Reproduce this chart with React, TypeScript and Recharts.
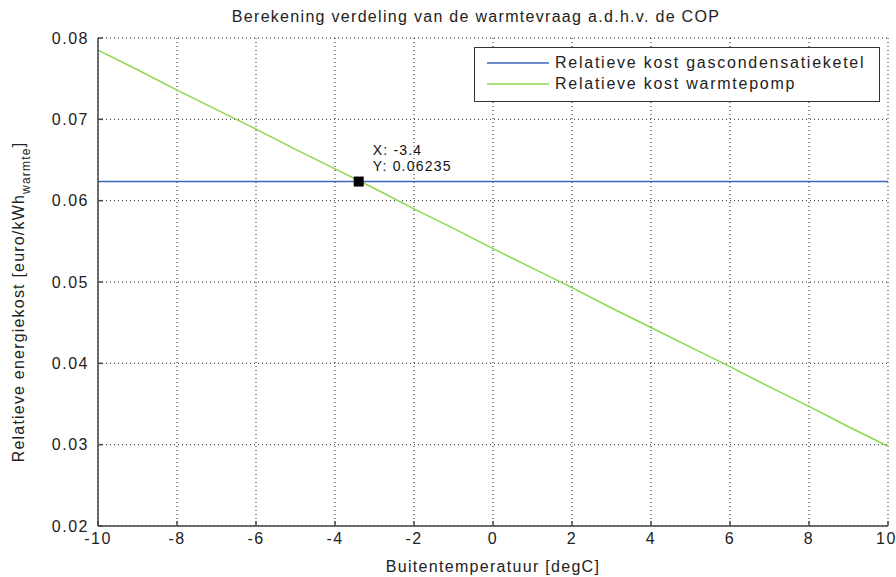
// App.tsx
// Relative cost of heating: condensing gas boiler vs heat pump, by outdoor temperature.
import { LineChart, Line, XAxis, YAxis, CartesianGrid, ReferenceDot } from "recharts";

const temps = [-10, -9, -8, -7, -6, -5, -4, -3, -2, -1, 0, 1, 2, 3, 4, 5, 6, 7, 8, 9, 10];
const gasCost = [
  0.06235, 0.06235, 0.06235, 0.06235, 0.06235, 0.06235, 0.06235, 0.06235, 0.06235, 0.06235, 0.06235,
  0.06235, 0.06235, 0.06235, 0.06235, 0.06235, 0.06235, 0.06235, 0.06235, 0.06235, 0.06235,
];
const heatPumpCost = [
  0.0785, 0.0761, 0.0736, 0.0712, 0.0688, 0.0663, 0.0639, 0.0615, 0.059, 0.0566, 0.0541,
  0.0517, 0.0493, 0.0468, 0.0444, 0.042, 0.0396, 0.0371, 0.0347, 0.0322, 0.0298,
];
const xTicks = [-10, -8, -6, -4, -2, 0, 2, 4, 6, 8, 10];
const yTicks = [0.02, 0.03, 0.04, 0.05, 0.06, 0.07, 0.08];
const tipX = -3.4;
const tipY = 0.06235;

const FONT = '"Liberation Sans", Arial, sans-serif';
const BLUE = "#3f66b8";
const GREEN = "#8cd84c";
const AXIS = "#444";
const TEXT = "#222";

const rows = temps.map((t, i) => ({ t, gas: gasCost[i], hp: heatPumpCost[i] }));

const tickStyle = { fontSize: 16, fill: TEXT, fontFamily: FONT, letterSpacing: 1.5 };

function YLabel() {
  return (
    <text
      transform="translate(24,302) rotate(-90)"
      textAnchor="middle"
      fontFamily={FONT}
      fontSize={16}
      fill={TEXT}
      style={{ letterSpacing: 1.2 }}
    >
      Relatieve energiekost [euro/kWh
      <tspan fontSize={12} dy={6}>warmte</tspan>
      <tspan dy={-6}>]</tspan>
    </text>
  );
}

function DataTip(props: any) {
  const { cx, cy } = props;
  return (
    <g fontFamily={FONT} fontSize={14} fill="#111" style={{ letterSpacing: 1.2 }}>
      <rect x={cx - 5} y={cy - 5} width={10} height={10} fill="#000" />
      <text x={cx + 14} y={cy - 27}>X: -3.4</text>
      <text x={cx + 14} y={cy - 11}>Y: 0.06235</text>
    </g>
  );
}

const noTick = () => <g />;

export default function App() {
  return (
    <div style={{ position: "absolute", left: 0, top: 0, width: 896, height: 577, background: "#fff", fontFamily: FONT }}>
      <div style={{ position: "absolute", left: 0, top: 8, width: 952, textAlign: "center", fontSize: 16, letterSpacing: 1.3, color: TEXT }}>
        Berekening verdeling van de warmtevraag a.d.h.v. de COP
      </div>
      <LineChart width={896} height={577} data={rows} margin={{ top: 38, right: 8, bottom: 0, left: 0 }}>
        <CartesianGrid stroke="#222" strokeDasharray="1 3" />
        <XAxis
          dataKey="t"
          type="number"
          domain={[-10, 10]}
          ticks={xTicks}
          height={51}
          stroke={AXIS}
          strokeWidth={1.5}
          tickSize={-5}
          tickMargin={12}
          tick={tickStyle}
          label={{ value: "Buitentemperatuur [degC]", position: "insideBottom", offset: 5, fontSize: 16, fill: TEXT, fontFamily: FONT, style: { letterSpacing: 1.3 } }}
        />
        <XAxis xAxisId="top" orientation="top" type="number" domain={[-10, 10]} ticks={xTicks} height={0} stroke={AXIS} strokeWidth={1.5} tickSize={-5} tick={noTick} />
        <YAxis
          type="number"
          domain={[0.02, 0.08]}
          ticks={yTicks}
          width={98}
          stroke={AXIS}
          strokeWidth={1.5}
          tickSize={-5}
          tickMargin={14}
          tickFormatter={(v: number) => v.toFixed(2)}
          tick={tickStyle}
          label={<YLabel />}
        />
        <YAxis yAxisId="right" orientation="right" type="number" domain={[0.02, 0.08]} ticks={yTicks} width={0} stroke={AXIS} strokeWidth={1.5} tickSize={-5} tick={noTick} />
        <Line dataKey="gas" stroke={BLUE} strokeWidth={1.5} dot={false} isAnimationActive={false} />
        <Line dataKey="hp" stroke={GREEN} strokeWidth={1.5} dot={false} isAnimationActive={false} />
        <ReferenceDot x={tipX} y={tipY} r={5} shape={DataTip} />
      </LineChart>
      <div
        style={{
          position: "absolute", left: 474, top: 47, width: 404, height: 53,
          border: "1px solid #333", background: "#fff", fontSize: 16, letterSpacing: 1.75, color: TEXT,
        }}
      >
        {[
          { name: "Relatieve kost gascondensatieketel", color: BLUE, gap: 4 },
          { name: "Relatieve kost warmtepomp", color: GREEN, gap: 0 },
        ].map((item) => (
          <div key={item.name} style={{ display: "flex", alignItems: "center", height: 21, marginTop: item.gap }}>
            <svg width={80} height={10} style={{ flex: "none" }}>
              <line x1={12} y1={5} x2={74} y2={5} stroke={item.color} strokeWidth={1.5} />
            </svg>
            <span>{item.name}</span>
          </div>
        ))}
      </div>
    </div>
  );
}
